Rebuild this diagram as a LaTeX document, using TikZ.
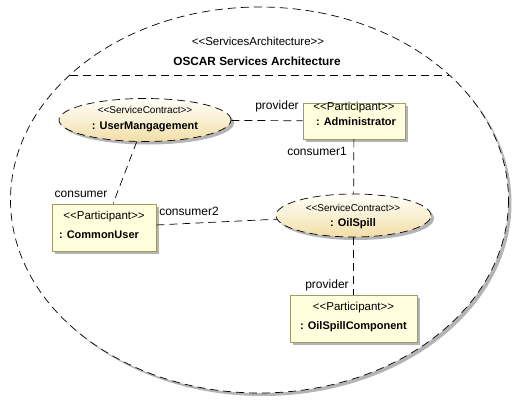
\documentclass[tikz,border=0pt]{standalone}
\usepackage{fontspec}
\setmainfont{Liberation Sans}
\usetikzlibrary{shapes.geometric,shadows}
\definecolor{boxfill}{HTML}{FFFFDD}
\definecolor{boxline}{HTML}{9C9C5E}
\definecolor{shad}{HTML}{B4B4B4}
\definecolor{elltop}{HTML}{FFFFF8}
\definecolor{ellbot}{HTML}{F2DDA6}
\newcommand\stereo[1]{<\kern0pt<#1>\kern0pt>}
\begin{document}
\begin{tikzpicture}[x=1pt,y=-1pt,
  conn/.style={draw=black, dash pattern=on 8pt off 5pt, line width=0.7pt},
  part/.style={rectangle, draw=boxline, fill=boxfill, line width=0.8pt, inner sep=0pt,
    drop shadow={shadow xshift=3pt, shadow yshift=-3pt, fill=shad, opacity=1}},
  contract/.style={ellipse, draw=black, dash pattern=on 8pt off 5pt, line width=0.7pt, inner sep=0pt,
    top color=elltop, bottom color=ellbot, middle color=ellbot!45!elltop,
    drop shadow={shadow xshift=3pt, shadow yshift=-3pt, fill=shad, opacity=1}},
  st/.style={font=\fontsize{11.5}{13}\selectfont, inner sep=0pt, anchor=mid},
  stsmall/.style={font=\fontsize{10}{12}\selectfont, inner sep=0pt, anchor=mid},
  nm/.style={font=\fontsize{11}{13}\selectfont\bfseries, inner sep=0pt, anchor=mid},
  lab/.style={font=\fontsize{12}{14}\selectfont, inner sep=0pt, anchor=mid}
]
\useasboundingbox (0,0) rectangle (520,402);
% outer frame
\fill[shad] (262.5,203) ellipse [x radius=249, y radius=193];
\fill[white] (259.5,200) ellipse [x radius=249, y radius=193];
\draw[conn] (259.5,200) ellipse [x radius=249, y radius=193];
\coordinate (chl) at (70,75);
\coordinate (chr) at (449,75);
\draw[conn] (chl) -- (chr);
\node[st] (archst) at (258,43) {\stereo{ServicesArchitecture}};
\node[font=\fontsize{11.8}{14}\selectfont\bfseries, inner sep=0pt, anchor=mid] (archnm) at (257,63) {OSCAR Services Architecture};

% nodes
\node[contract, minimum width=172pt, minimum height=43pt] (um) at (145,120) {};
\node[part, minimum width=102pt, minimum height=36pt] (admin) at (354,121) {};
\node[part, minimum width=104pt, minimum height=47pt] (cu) at (104,227.5) {};
\node[contract, minimum width=155pt, minimum height=43pt] (oil) at (353.5,215.5) {};
\node[part, minimum width=127pt, minimum height=47pt] (osc) at (353.5,318.5) {};

% texts
\node[stsmall] (umst) at (145,111) {\stereo{ServiceContract}};
\node[nm] (umnm) at (145,127) {: UserMangagement};
\node[st] (adst) at (354,108) {\stereo{Participant}};
\node[nm] (adnm) at (356,123) {: Administrator};
\node[st] (cust) at (104,217) {\stereo{Participant}};
\node[nm] (cunm) at (99,236) {: CommonUser};
\node[stsmall] (oilst) at (353,209) {\stereo{ServiceContract}};
\node[nm] (oilnm) at (353,224) {: OilSpill};
\node[st] (oscst) at (353.5,308) {\stereo{Participant}};
\node[nm] (oscnm) at (353.5,327) {: OilSpillComponent};

% connectors
\draw[conn] (um) -- (admin);
\draw[conn] (um) -- (cu);
\draw[conn] (admin) -- (oil);
\draw[conn] (cu) -- (oil);
\draw[conn] (oil) -- (osc);

% role labels
\node[lab] (l1) at (277,107) {provider};
\node[lab] (l2) at (81,195) {consumer};
\node[lab] (l3) at (317,153) {consumer1};
\node[lab] (l4) at (189,213) {consumer2};
\node[lab] (l5) at (327,286) {provider};
\end{tikzpicture}
\end{document}
